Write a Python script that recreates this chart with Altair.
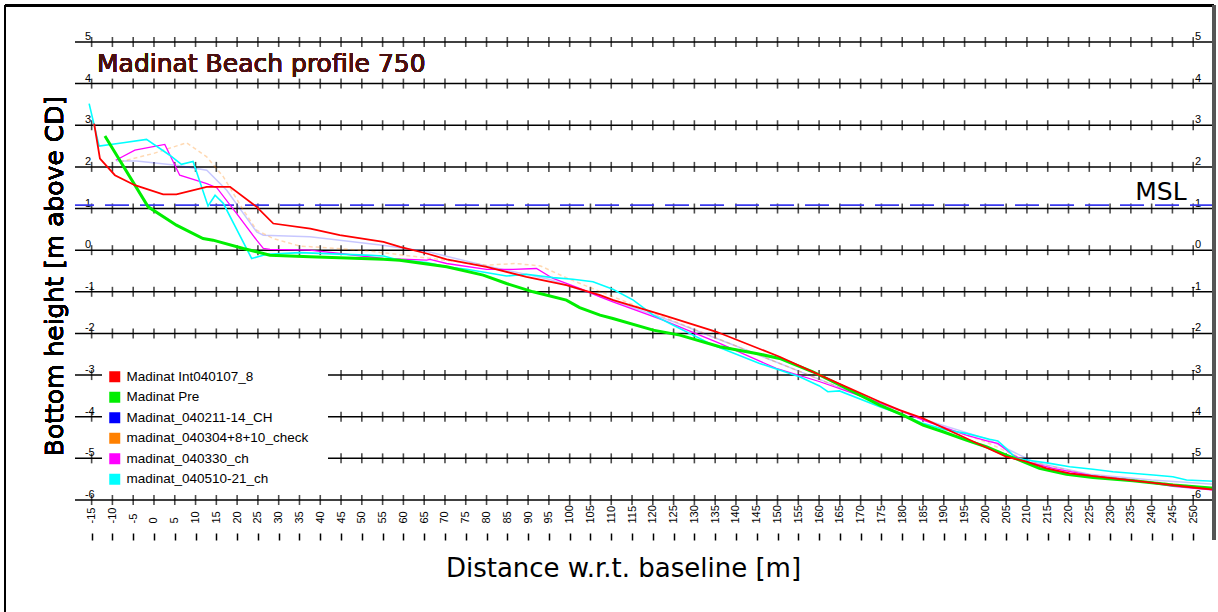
import altair as alt
import pandas as pd

# Survey profiles (distance from baseline [m], bottom height [m above CD])
SERIES = ["Madinat Int040107_8", "Madinat Pre", "Madinat_040211-14_CH",
          "madinat_040304+8+10_check", "madinat_040330_ch", "madinat_040510-21_ch"]
COLORS = ["#ff0000", "#00ee00", "#0000ff", "#ff8000", "#ff00ff", "#00ffff"]

red_x = [-14.4, -13.0, -9.4, -4.6, 2.2, 5.4, 12.7, 18.3, 24.7, 28.7, 37.6, 44.7, 55.2, 59.2,
         65.6, 70.4, 80.0, 89.6, 99.2, 107.3, 110.5, 122.5, 135.3, 150.5, 160.2, 174.6, 179.4,
         185, 194.6, 205, 209.9, 214.7, 220.3, 230.8, 240.4, 250, 255]
red_y = [3.04, 2.20, 1.80, 1.56, 1.34, 1.34, 1.52, 1.52, 1.04, 0.64, 0.52, 0.36, 0.20, 0.08,
         -0.08, -0.22, -0.40, -0.64, -0.84, -1.08, -1.20, -1.56, -1.96, -2.56, -3.0, -3.64, -3.84,
         -4.04, -4.48, -4.96, -5.08, -5.24, -5.36, -5.48, -5.59, -5.70, -5.75]

green_x = [-11.8, -1.4, 5.4, 11.8, 14.2, 21.5, 27.9, 37.5, 55.2, 59.1, 70.4, 79.2, 84.8, 91.2,
           99.2, 102.4, 107.3, 110.4, 120.1, 126.5, 136.1, 144.9, 150.5, 158.5, 166.6, 174.6,
           180.2, 185, 189.8, 195.4, 200.2, 205, 208.2, 213, 219.5, 225.9, 235.5, 245.1, 255]
green_y = [2.74, 1.04, 0.60, 0.28, 0.24, 0.04, -0.12, -0.16, -0.22, -0.24, -0.40, -0.60, -0.80, -1.0,
           -1.20, -1.38, -1.56, -1.64, -1.92, -2.04, -2.32, -2.48, -2.60, -2.92, -3.32, -3.72,
           -3.96, -4.20, -4.36, -4.56, -4.72, -4.92, -5.04, -5.24, -5.38, -5.46, -5.54, -5.64, -5.72]

blue_x = [-9.0, -4.2, 5.4, 12.7, 17.5, 24.7, 26.3, 37.5, 55, 66, 80, 95, 110, 125, 140, 155,
          170, 185, 200, 207, 212, 225, 240, 255]
blue_y = [2.14, 2.14, 2.04, 1.92, 1.44, 0.44, 0.36, 0.32, 0.12, -0.04, -0.38, -0.70, -1.20, -1.72,
          -2.30, -2.90, -3.50, -4.06, -4.52, -4.86, -5.10, -5.38, -5.52, -5.62]

orange_x = [-8.2, -0.2, 7.8, 12.7, 16.7, 21.5, 24.7, 28.7, 35, 50, 65, 80, 87, 93, 100, 115,
            130, 150, 165, 185, 200, 210, 225, 240, 255]
orange_y = [2.12, 2.32, 2.58, 2.24, 1.76, 0.96, 0.48, 0.28, 0.10, 0.0, -0.18, -0.36, -0.32, -0.38,
            -0.70, -1.30, -1.90, -2.70, -3.30, -4.08, -4.60, -5.06, -5.40, -5.56, -5.72]

magenta_x = [-9.2, -4.6, 2.6, 6.2, 12.7, 15.1, 19.9, 24.7, 26.3, 27.9, 37.5, 44.7, 55.2, 65.6,
             66.4, 70.4, 80, 86.4, 92, 96, 102.4, 107.3, 110.4, 122.5, 136.1, 149.7, 160.2,
             168.2, 179.4, 185, 195.4, 201, 203, 206.6, 209.9, 216.3, 225.9, 235.5, 245.1, 255]
magenta_y = [2.16, 2.40, 2.54, 1.80, 1.60, 1.50, 0.88, 0.24, 0.04, 0.02, 0.0, -0.08, -0.20, -0.24,
             -0.22, -0.32, -0.46, -0.46, -0.44, -0.68, -0.92, -1.12, -1.24, -1.68, -2.24, -2.84,
             -3.16, -3.44, -3.84, -4.08, -4.44, -4.60, -4.64, -4.92, -5.08, -5.24, -5.42, -5.52,
             -5.67, -5.76]

cyan_x = [-15.6, -13.2, -7.4, -1.8, 3.8, 6.6, 9.4, 13.0, 14.7, 16.7, 23.5, 27.1, 35.1, 51, 55.2,
          59.1, 65.6, 70.4, 75.2, 84.8, 89.6, 96.0, 100.8, 105.6, 110.4, 115.3, 120.1, 126.5,
          134.5, 145.7, 155.3, 160.1, 162.1, 164.9, 174.6, 180.2, 185, 190.6, 195.4, 201, 203,
          205, 207.4, 209.9, 215.5, 220.3, 225.9, 230.7, 240.4, 245.1, 248.4, 255]
cyan_y = [3.52, 2.50, 2.58, 2.66, 2.28, 2.06, 2.13, 1.06, 1.32, 1.12, -0.20, -0.10, -0.06, -0.12,
          -0.14, -0.24, -0.30, -0.40, -0.46, -0.62, -0.58, -0.66, -0.70, -0.76, -0.94, -1.20,
          -1.56, -1.88, -2.28, -2.72, -3.04, -3.26, -3.40, -3.38, -3.76, -3.96, -4.16, -4.32,
          -4.40, -4.54, -4.58, -4.76, -5.0, -5.04, -5.12, -5.20, -5.26, -5.32, -5.40, -5.44,
          -5.52, -5.55]

# Axis ticks and reference level
x_ticks = list(range(-15, 251, 5))
y_levels = list(range(-6, 6))
MSL = 1.08
MSL_LABEL_AT = 248.4

profiles = pd.concat([
    pd.DataFrame({"distance": xs, "height": ys, "profile": name})
    for name, xs, ys in [
        (SERIES[0], red_x, red_y), (SERIES[1], green_x, green_y),
        (SERIES[2], blue_x, blue_y), (SERIES[3], orange_x, orange_y),
        (SERIES[4], magenta_x, magenta_y), (SERIES[5], cyan_x, cyan_y)]
], ignore_index=True)

levels = pd.DataFrame({"height": y_levels, "label": [str(v) for v in y_levels]})
crosses = pd.DataFrame([(x, y) for y in y_levels for x in x_ticks], columns=["distance", "height"])
msl_df = pd.DataFrame({"distance": [MSL_LABEL_AT], "height": [MSL]})
# one swatch per profile, parked under the (opaque) legend box
swatches = pd.DataFrame({"profile": SERIES, "distance": 0.0, "height": -4.0})

W, H = 1139, 494
xscale = alt.Scale(domain=[-19, 255], nice=False, zero=False)
yscale = alt.Scale(domain=[-6, 5.864], nice=False, zero=False)

x_plain = alt.X("distance:Q", scale=xscale, axis=None)
y_plain = alt.Y("height:Q", scale=yscale, axis=None)
cscale = alt.Scale(domain=SERIES, range=COLORS)

legend = alt.Legend(
    title=None, orient="none", legendX=27, legendY=358,
    symbolType="square", symbolSize=121, symbolStrokeWidth=0, symbolOpacity=1,
    fillColor="white", padding=6, rowPadding=5.5,
    labelFont="Liberation Sans", labelFontSize=13.5, labelColor="black", labelOffset=5,
    labelLimit=400, labelExpr="datum.label + '    '",
)

# horizontal level lines
grid_lines = alt.Chart(levels).mark_rule(color="black", strokeWidth=1.5).encode(y=y_plain)

# small crosses on every level line, carrying the rotated distance labels
grid_ticks = alt.Chart(crosses).mark_tick(
    orient="vertical", size=10, thickness=1.6, color="black"
).encode(
    x=alt.X("distance:Q", scale=xscale, axis=alt.Axis(
        orient="bottom", values=x_ticks, labelExpr="toString(datum.value)",
        labelAngle=270, labelAlign="left", labelBaseline="middle", labelPadding=23,
        labelFont="Liberation Sans", labelFontSize=11, labelColor="black",
        labelOverlap=False, labelFlush=False,
        ticks=False, domain=False, grid=False,
        title="Distance w.r.t. baseline [m]", titleFont="DejaVu Sans", titleFontSize=26,
        titleFontWeight="normal", titleColor="black",
        titleX=548, titleY=76, titleAlign="center", titleBaseline="alphabetic")),
    y=y_plain,
)

# white panel behind the legend
legend_panel = alt.Chart(levels).mark_rect(color="white").encode(
    x=alt.value(27), x2=alt.value(253), y=alt.value(358), y2=alt.value(486))

swatch_layer = alt.Chart(swatches).mark_square(size=121, filled=True, opacity=1).encode(
    x=x_plain, y=y_plain, color=alt.Color("profile:N", scale=cscale, legend=legend))

left_labels = alt.Chart(levels).transform_calculate(
    distance=str(x_ticks[0])
).mark_text(
    align="left", baseline="alphabetic", dx=-6.7, dy=-2,
    font="Liberation Sans", fontSize=11, color="black"
).encode(x=x_plain, y=y_plain, text="label:N")

right_labels = alt.Chart(levels).transform_calculate(
    distance=str(x_ticks[-1])
).mark_text(
    align="right", baseline="alphabetic", dx=8, dy=-2,
    font="Liberation Sans", fontSize=11, color="black"
).encode(x=x_plain, y=y_plain, text="label:N")

msl_line = alt.Chart(msl_df).mark_rule(
    color="#3a3aee", strokeWidth=1.7, strokeDash=[24, 11]
).encode(y=y_plain)

msl_text = alt.Chart(msl_df).mark_text(
    text="MSL", align="right", baseline="alphabetic", dy=-5,
    font="DejaVu Sans", fontSize=25, color="black"
).encode(x=x_plain, y=y_plain)


def profile_layer(name, **mark):
    return alt.Chart(profiles).transform_filter(
        alt.datum.profile == name
    ).mark_line(**mark).encode(
        x=x_plain, y=y_plain,
        color=alt.Color("profile:N", scale=cscale, legend=None),
        order="distance:Q")


lines = [
    profile_layer(SERIES[2], strokeWidth=1.5, opacity=0.22),
    profile_layer(SERIES[3], strokeWidth=1.5, opacity=0.3, strokeDash=[4, 3]),
    profile_layer(SERIES[4], strokeWidth=1.3),
    profile_layer(SERIES[5], strokeWidth=1.6),
    profile_layer(SERIES[1], strokeWidth=3),
    profile_layer(SERIES[0], strokeWidth=1.8),
]

# tick marks below the distance labels
tick_axis = alt.Chart(crosses).mark_point(opacity=0).encode(
    x=alt.X("distance:Q", scale=xscale, axis=alt.Axis(
        orient="bottom", values=x_ticks, labels=False, ticks=True, tickSize=7,
        tickWidth=1.5, tickColor="black", domain=False, grid=False, offset=33, title=None)),
    y=y_plain,
)

title = alt.Chart(levels).mark_text(
    text="Madinat Beach profile 750", align="left", baseline="alphabetic",
    font="DejaVu Sans", fontSize=25, color="#4a1010"
).encode(x=alt.value(22), y=alt.value(66))

y_title = alt.Chart(levels).mark_text(
    text="Bottom height [m above CD]", angle=270, align="center", baseline="alphabetic",
    font="DejaVu Sans", fontSize=25, color="black"
).encode(x=alt.value(-12), y=alt.value(270))

frame_top = alt.Chart(levels).mark_rule(color="black", strokeWidth=2).encode(
    x=alt.value(-70), x2=alt.value(1139), y=alt.value(-0.5))
frame_left = alt.Chart(levels).mark_rule(color="black", strokeWidth=2).encode(
    x=alt.value(-70), y=alt.value(-0.5), y2=alt.value(606))
frame_right = alt.Chart(levels).mark_rule(color="#555555", strokeWidth=3).encode(
    x=alt.value(1139), y=alt.value(-0.5), y2=alt.value(534))

chart = alt.layer(
    grid_lines, grid_ticks, swatch_layer, legend_panel, left_labels, right_labels,
    msl_line, msl_text, *lines, tick_axis, title, y_title, frame_top, frame_left, frame_right,
).resolve_axis(x="independent").properties(
    width=W, height=H, background="white",
    autosize=alt.AutoSizeParams(type="none"),
    padding={"left": 75, "top": 6, "right": 4, "bottom": 112},
).configure_view(stroke=None)

chart.save("out.html", embed_options={"renderer": "svg", "actions": False})
